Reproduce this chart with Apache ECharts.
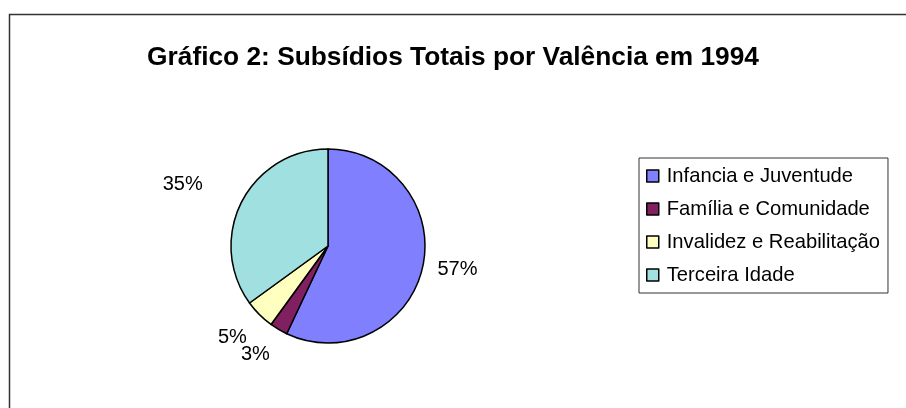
<!DOCTYPE html>
<html lang="pt" style="height: 100%">
<head>
    <meta charset="UTF-8">
    <title>Gráfico 2</title>
    <script src="https://cdn.jsdelivr.net/npm/echarts@6/dist/echarts.min.js"></script>
</head>
<body style="height: 100%; margin: 0; background: #fff">
<div id="container" style="width: 906px; height: 408px"></div>
<script type="text/javascript">
    var titleText = 'Gráfico 2: Subsídios Totais por Valência em 1994';
    var categories = ['Infancia e Juventude', 'Família e Comunidade', 'Invalidez e Reabilitação', 'Terceira Idade'];
    var values = [57, 3, 5, 35];
    var colors = ['#8080FF', '#802060', '#FFFFC0', '#A0E0E0'];
    // posicao das etiquetas, por fatia
    var labelLen = [10, 29, 32, 38];
    var labelDist = [5, -6, -10, 5];

    var dom = document.getElementById('container');
    var myChart = echarts.init(dom);
    var font = 'Liberation Sans, Arial, sans-serif';

    var data = categories.map(function (name, i) {
        return {
            name: name,
            value: values[i],
            itemStyle: { color: colors[i] },
            label: { distanceToLabelLine: labelDist[i] },
            labelLine: { show: false, length: labelLen[i], length2: 0 }
        };
    });

    var option = {
        backgroundColor: '#fff',
        animation: false,
        graphic: [{
            type: 'rect',
            shape: { x: 9.5, y: 14.5, width: 1000, height: 1000 },
            style: { fill: null, stroke: '#333', lineWidth: 1.5 },
            silent: true
        }],
        title: {
            text: titleText,
            left: 'center',
            top: 40,
            textStyle: { fontFamily: font, fontSize: 26.3, fontWeight: 'bold', color: '#000' }
        },
        legend: {
            orient: 'vertical',
            left: 639,
            top: 158,
            padding: [8, 8, 8, 7],
            itemGap: 13,
            itemWidth: 12,
            itemHeight: 12,
            borderColor: '#333',
            borderWidth: 1,
            icon: 'rect',
            itemStyle: { borderColor: '#000', borderWidth: 1.5 },
            textStyle: { fontFamily: font, fontSize: 20.2, color: '#000', lineHeight: 20, padding: [0, 0, 0, 3] },
            data: categories
        },
        series: [{
            type: 'pie',
            center: [328, 246],
            radius: 97,
            startAngle: 90,
            clockwise: true,
            avoidLabelOverlap: false,
            labelLayout: { hideOverlap: false },
            itemStyle: { borderColor: '#000', borderWidth: 1.5 },
            label: {
                show: true,
                position: 'outside',
                formatter: '{c}%',
                fontFamily: font,
                fontSize: 20,
                lineHeight: 14,
                color: '#000'
            },
            emphasis: { disabled: true },
            data: data
        }]
    };

    myChart.setOption(option);
</script>
</body>
</html>
